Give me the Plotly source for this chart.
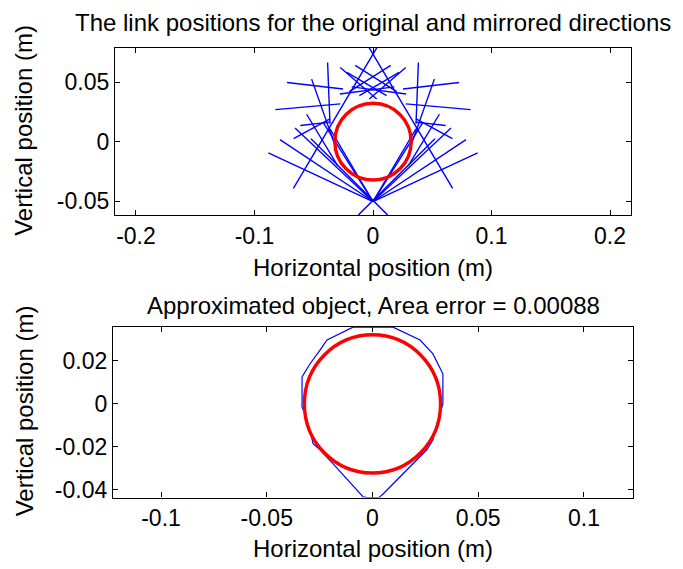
import plotly.graph_objects as go

# ---------------- data ----------------
# red object (circle) : centre and radius in metres
obj_cx, obj_cy, obj_r = 0.0, 0.0, 0.0322

# link segments (original + mirrored), metres
link_x0 = [0.0034, -0.0034, 0.0124, -0.0124, -0.0883, 0.0883, -0.0785, 0.0785, -0.0658, 0.0658,
           -0.0726, 0.0726, -0.0824, 0.0824, -0.0383, 0.0383, -0.0518, 0.0518, -0.0276, 0.0276,
           -0.0220, 0.0220, -0.0670, 0.0670, -0.0613, 0.0613, -0.0363, 0.0363,
           0.0, 0.0, -0.0150, 0.0150, -0.0280, 0.0280, -0.0560, 0.0560]
link_y0 = [0.0792, 0.0792, -0.0617, -0.0617, -0.0094, -0.0094, 0.0017, 0.0017, 0.0114, 0.0114,
           0.0497, 0.0497, 0.0269, 0.0269, 0.0664, 0.0664, 0.0525, 0.0525, 0.0622, 0.0622,
           0.0581, 0.0581, 0.0025, 0.0025, 0.0136, 0.0136, 0.0108, 0.0108,
           -0.0503, -0.0503, 0.0640, 0.0640, 0.0400, 0.0400, 0.0230, 0.0230]
link_x1 = [-0.0672, 0.0672, -0.0523, 0.0523, 0.0, 0.0, 0.0, 0.0, 0.0, 0.0,
           -0.0253, 0.0253, -0.0276, 0.0276, -0.0363, 0.0363, -0.0310, 0.0310, 0.0031, -0.0031,
           0.0115, -0.0115, -0.0363, 0.0363, -0.0363, 0.0363, 0.0, 0.0,
           -0.0420, 0.0420, 0.0200, -0.0200, 0.0180, -0.0180, -0.0300, 0.0300]
link_y1 = [-0.0392, -0.0392, 0.0025, 0.0025, -0.0503, -0.0503, -0.0503, -0.0503, -0.0503, -0.0503,
           0.0442, 0.0442, 0.0317, 0.0317, 0.0150, 0.0150, -0.0061, -0.0061, 0.0358, 0.0358,
           0.0386, 0.0386, 0.0192, 0.0192, 0.0164, 0.0164, -0.0503, -0.0503,
           0.0160, 0.0160, 0.0420, 0.0420, 0.0460, 0.0460, -0.0200, -0.0200]

# approximated object outline (metres)
approx_x = [-0.0092, -0.0215, -0.0248, -0.0296, -0.0333, -0.0333, -0.0319, -0.0296, -0.0281,
            -0.0248, -0.0187, -0.0121, -0.0045, -0.0025, 0.0030, 0.0050, 0.0130, 0.0190,
            0.0257, 0.0286, 0.0305, 0.0333, 0.0333, 0.0286, 0.0225, 0.0097, -0.0092]
approx_y = [0.0358, 0.0298, 0.0251, 0.0186, 0.0126, -0.0014, -0.0047, -0.0121, -0.0186,
            -0.0214, -0.0279, -0.0353, -0.0433, -0.0437, -0.0437, -0.0420, -0.0340, -0.0279,
            -0.0214, -0.0167, -0.0093, 0.0000, 0.0140, 0.0233, 0.0298, 0.0358, 0.0358]

top_xticks = [-0.2, -0.1, 0, 0.1, 0.2]
top_yticks = [-0.05, 0, 0.05]
bot_xticks = [-0.1, -0.05, 0, 0.05, 0.1]
bot_yticks = [-0.04, -0.02, 0, 0.02]

title_top = "The link positions for the original and mirrored directions"
title_bot = "Approximated object, Area error = 0.00088"
xlabel = "Horizontal position (m)"
ylabel = "Vertical position (m)"

# ---------------- figure ----------------
W, H = 683, 569
FONT = "Liberation Sans, Arial, sans-serif"

lx, ly = [], []
for a, b, c, d in zip(link_x0, link_y0, link_x1, link_y1):
    lx += [a, c, None]
    ly += [b, d, None]

fig = go.Figure()
fig.add_trace(go.Scatter(x=lx, y=ly, mode="lines", line=dict(color="#0000ff", width=1.4),
                         xaxis="x", yaxis="y", hoverinfo="skip", showlegend=False))
fig.add_trace(go.Scatter(x=approx_x, y=approx_y, mode="lines", line=dict(color="#0000ff", width=1.2),
                         xaxis="x2", yaxis="y2", hoverinfo="skip", showlegend=False))

for xr, yr in (("x", "y"), ("x2", "y2")):
    fig.add_shape(type="circle", xref=xr, yref=yr,
                  x0=obj_cx - obj_r, x1=obj_cx + obj_r, y0=obj_cy - obj_r, y1=obj_cy + obj_r,
                  line=dict(color="#ff0000", width=3.4), layer="above")

def px(x):
    return x / W

def py(y):
    return 1 - y / H

ax_common = dict(showline=True, linecolor="black", linewidth=1.3, mirror="allticks",
                 ticks="inside", ticklen=5, tickwidth=1.2, tickcolor="black",
                 showgrid=False, zeroline=False,
                 tickfont=dict(family=FONT, size=23, color="black"))

fig.update_layout(
    width=W, height=H, margin=dict(l=0, r=0, t=0, b=0),
    paper_bgcolor="white", plot_bgcolor="white",
    xaxis=dict(domain=[px(115), px(631)], range=[-0.2177, 0.2177], anchor="y",
               tickvals=top_xticks, ticktext=["-0.2", "-0.1", "0", "0.1", "0.2"], **ax_common),
    yaxis=dict(domain=[py(217), py(48)], range=[-0.0617, 0.079], anchor="x",
               tickvals=top_yticks, ticktext=["-0.05", "0", "0.05"], **ax_common),
    xaxis2=dict(domain=[px(113), px(633)], range=[-0.1227, 0.1232], anchor="y2",
                tickvals=bot_xticks, ticktext=["-0.1", "-0.05", "0", "0.05", "0.1"], **ax_common),
    yaxis2=dict(domain=[py(502), py(330)], range=[-0.0437, 0.0358], anchor="x2",
                tickvals=bot_yticks, ticktext=["-0.04", "-0.02", "0", "0.02"], **ax_common),
)

def ann(text, x, y, size=24, angle=0):
    fig.add_annotation(text=text, x=px(x), y=py(y), xref="paper", yref="paper",
                       showarrow=False, textangle=angle, xanchor="center", yanchor="middle",
                       font=dict(family=FONT, size=size, color="black"))

ann(title_top, 373, 23, 24)
ann(xlabel, 373, 270, 24)
ann(ylabel, 24, 132, 24, -90)
ann(title_bot, 373, 308, 24)
ann(xlabel, 373, 553, 24)
ann(ylabel, 24, 415, 24, -90)

fig.write_html("out.html", config={"displayModeBar": False},
               post_script="document.body.style.margin='0';document.body.style.overflow='hidden';")
